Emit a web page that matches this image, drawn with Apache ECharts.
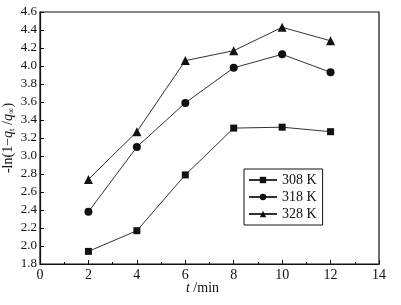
<!DOCTYPE html>
<html>
<head>
<meta charset="utf-8">
<script src="https://cdn.jsdelivr.net/npm/echarts@6/dist/echarts.min.js"></script>
<style>
  html, body { margin: 0; padding: 0; background: #fff; }
  #chart { width: 401px; height: 305px; }
</style>
</head>
<body>
<div id="chart"></div>
<script>
// 时间 t/min
var times = [2, 4, 6, 8, 10, 12];
// 三个温度下的 -ln(1-qt/q∞)
var k308 = [1.94, 2.17, 2.79, 3.31, 3.32, 3.27];
var k318 = [2.38, 3.10, 3.59, 3.98, 4.13, 3.93];
var k328 = [2.74, 3.27, 4.06, 4.17, 4.43, 4.28];
var seriesNames = ["308 K", "318 K", "328 K"];

var font = "'Liberation Serif', 'DejaVu Serif', serif";

function pairs(vals) {
  return times.map(function (t, i) { return [t, vals[i]]; });
}

function makeSeries(name, vals, symbol, size) {
  return {
    name: name,
    type: "line",
    data: pairs(vals),
    symbol: symbol,
    symbolSize: size,
    color: "#111",
    lineStyle: { color: "#333", width: 1 },
    itemStyle: { color: "#111" },
    animation: false
  };
}

var chart = echarts.init(document.getElementById("chart"));
chart.setOption({
  backgroundColor: "#fff",
  textStyle: { fontFamily: font },
  grid: {
    left: 40, right: 22, top: 12, bottom: 41,
    outerBoundsMode: "none",
    containLabel: false,
    show: true, borderColor: "#111", borderWidth: 1.2, backgroundColor: "transparent"
  },
  legend: {
    orient: "vertical",
    left: 244, top: 169,
    width: 70,
    itemWidth: 28, itemHeight: 8, itemGap: 3,
    padding: [4, 6, 4, 4],
    borderColor: "#111", borderWidth: 1,
    textStyle: { fontFamily: font, fontSize: 14, color: "#111" },
    data: seriesNames
  },
  xAxis: {
    type: "value",
    min: 0, max: 14, interval: 2,
    name: "{i|t} /min",
    nameLocation: "middle",
    nameGap: 17,
    nameMoveOverlap: false,
    nameTextStyle: {
      fontFamily: font, fontSize: 14, color: "#111",
      padding: [0, 14, 0, 0],
      rich: { i: { fontStyle: "italic", fontFamily: font, fontSize: 14 } }
    },
    axisLine: { lineStyle: { color: "#111", width: 1.2 } },
    axisTick: { inside: true, length: 4, lineStyle: { color: "#111" } },
    minorTick: { show: true, splitNumber: 2, length: 2, lineStyle: { color: "#111" } },
    axisLabel: { fontFamily: font, fontSize: 14, color: "#111", margin: 4 },
    splitLine: { show: false }
  },
  yAxis: {
    type: "value",
    min: 1.8, max: 4.6, interval: 0.2,
    name: "-ln(1\u2212{i|q}{s|t} /{i|q}{s|\u221E})",
    nameLocation: "middle",
    nameGap: 24,
    nameMoveOverlap: false,
    nameRotate: 90,
    nameTextStyle: {
      fontFamily: font, fontSize: 14, color: "#111", lineHeight: 16,
      rich: {
        i: { fontStyle: "italic", fontFamily: font, fontSize: 14, lineHeight: 16 },
        s: { fontFamily: font, fontSize: 9, verticalAlign: "bottom", lineHeight: 16 }
      }
    },
    axisLine: { show: true, lineStyle: { color: "#111", width: 1.2 } },
    axisTick: { show: true, inside: true, length: 4, lineStyle: { color: "#111" } },
    axisLabel: {
      fontFamily: font, fontSize: 13, color: "#111", margin: 3,
      formatter: function (v) { return v.toFixed(1); }
    },
    splitLine: { show: false }
  },
  series: [
    makeSeries(seriesNames[0], k308, "rect", 7),
    makeSeries(seriesNames[1], k318, "circle", 8),
    makeSeries(seriesNames[2], k328, "triangle", 9)
  ]
});
</script>
</body>
</html>
